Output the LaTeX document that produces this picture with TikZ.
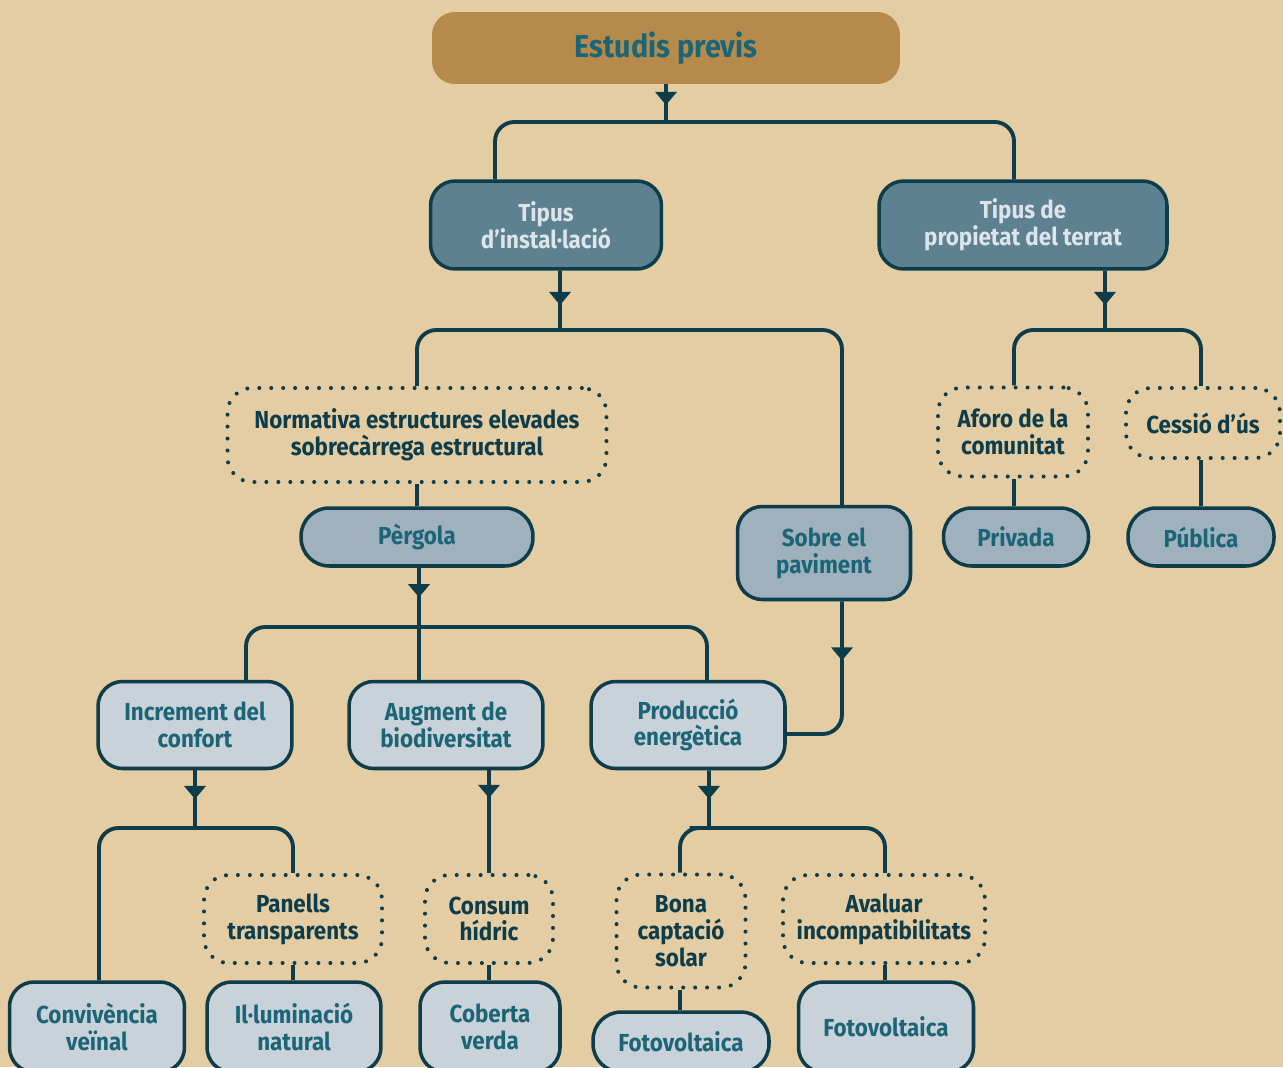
\documentclass[tikz,border=0pt]{standalone}
\usepackage{fontspec}
\setmainfont{Fira Sans}[FakeStretch=0.91]
\usetikzlibrary{arrows.meta,decorations.markings}
\definecolor{bgsand}{HTML}{E4CCA3}
\definecolor{gold}{HTML}{B68A4A}
\definecolor{inkdark}{HTML}{0D3D4B}
\definecolor{tealtext}{HTML}{1B6577}
\definecolor{slate}{HTML}{5E8192}
\definecolor{slatemid}{HTML}{A0B1BE}
\definecolor{slatelight}{HTML}{C9D1D9}
\definecolor{paletext}{HTML}{DDE4EA}

\begin{document}
\begin{tikzpicture}[x=0.02cm, y=-0.02cm,
  base/.style={align=center, inner sep=2pt,
               font=\fontsize{14}{15.3}\selectfont\bfseries},
  rootbox/.style={base, fill=gold, text=tealtext, rounded corners=13pt,
                  minimum width=9.36cm, minimum height=1.44cm,
                  font=\fontsize{18}{20}\selectfont\bfseries},
  topbox/.style={base, draw=inkdark, line width=2pt, fill=slate,
                 text=paletext, rounded corners=14pt, minimum height=1.76cm},
  midbox/.style={base, draw=inkdark, line width=2pt, fill=slatemid,
                 text=tealtext, rounded corners=14pt},
  leafbox/.style={base, draw=inkdark, line width=2pt, fill=slatelight,
                  text=tealtext, rounded corners=14pt, minimum height=1.74cm},
  pillbox/.style={midbox, rounded corners=16pt, minimum height=1.16cm},
  notebox/.style={base, draw=inkdark, line width=2.3pt, line cap=round,
                  dash pattern=on 0pt off 6.8pt, text=inkdark,
                  rounded corners=14pt},
  conn/.style={draw=inkdark, line width=2.2pt, rounded corners=11pt},
  flow/.style={conn, postaction={decorate},
               decoration={markings, mark=at position #1 with
                 {\arrow{Triangle[width=12pt,length=7.5pt]}}}},
  flow/.default=0.55
]
\useasboundingbox (0,0) rectangle (1283,1067);
\clip (0,0) rectangle (1283,1067);
\fill[bgsand] (0,0) rectangle (1283,1067);

% ======= Root =======
\node[rootbox] (estudis) at (666,48) {Estudis previs};

% ======= First level =======
\node[topbox, minimum width=4.62cm] (tipinst) at (546,225) {Tipus\\d’instal·lació};
\node[topbox, minimum width=5.76cm] (tipprop) at (1023,225) {Tipus de\\propietat del terrat};

% ======= Installation branch =======
\node[notebox, minimum width=7.58cm, minimum height=1.88cm] (normativa) at (417,435)
  {Normativa estructures elevades\\sobrecàrrega estructural};
\node[pillbox, minimum width=4.64cm] (pergola) at (417,537) {Pèrgola};
\node[midbox, minimum width=3.46cm, minimum height=1.86cm] (paviment) at (824,553) {Sobre el\\paviment};

% ======= Ownership branch =======
\node[notebox, minimum width=3cm, minimum height=1.78cm] (aforo) at (1013,432) {Aforo de la\\comunitat};
\node[notebox, minimum width=3.08cm, minimum height=1.4cm] (cessio) at (1203,423) {Cessió d’ús};
\node[pillbox, minimum width=2.9cm] (privada) at (1016,537) {Privada};
\node[pillbox, minimum width=2.92cm] (publica) at (1201,537) {Pública};

% ======= Pergola goals =======
\node[leafbox, minimum width=3.88cm] (increment) at (195,725) {Increment del\\confort};
\node[leafbox, minimum width=3.88cm] (augment) at (446,725) {Augment de\\biodiversitat};
\node[leafbox, minimum width=3.88cm] (produccio) at (688,725) {Producció\\energètica};

% ======= Conditions =======
\node[notebox, minimum width=3.56cm, minimum height=1.76cm] (panells) at (293,919) {Panells\\transparents};
\node[notebox, minimum width=2.56cm, minimum height=1.76cm] (consum) at (489,919) {Consum\\hídric};
\node[notebox, minimum width=2.58cm, minimum height=2.26cm] (bona) at (681,931) {Bona\\captació\\solar};
\node[notebox, minimum width=4.04cm, minimum height=1.76cm] (avaluar) at (884,919) {Avaluar\\incompatibilitats};

% ======= Results =======
\node[leafbox, minimum width=3.5cm, minimum height=1.8cm] (convivencia) at (97,1027) {Convivència\\veïnal};
\node[leafbox, minimum width=3.48cm, minimum height=1.8cm] (illuminacio) at (294,1027) {Il·luminació\\natural};
\node[leafbox, minimum width=2.8cm, minimum height=1.8cm] (coberta) at (490,1027) {Coberta\\verda};
\node[pillbox, fill=slatelight, minimum width=3.52cm, minimum height=1.2cm] (fotoa) at (681,1042) {Fotovoltaica};
\node[leafbox, minimum width=3.5cm, minimum height=1.8cm] (fotob) at (886,1027) {Fotovoltaica};

% ======= Junctions =======
\coordinate (j0) at (666,122);
\coordinate (j1) at (560,330);
\coordinate (j2) at (419,627);
\coordinate (j3) at (1105,330);
\coordinate (j4) at (195,828);
\coordinate (j5) at (709,828);

% ======= Connections =======
\draw[flow] (estudis.south) -- (j0);
\draw[conn] ([xshift=-1.02cm]tipinst.north) |- (j0) -| ([xshift=-0.18cm]tipprop.north);

\draw[flow=0.58] ([xshift=0.28cm]tipinst.south) -- (j1);
\draw[conn] (normativa.north) |- (j1) -| ([xshift=0.36cm]paviment.north);
\draw[conn] (normativa.south) -- (pergola.north);

\draw[flow=0.5] ([xshift=0.04cm]pergola.south) -- (j2);
\draw[conn] ([xshift=1.02cm]increment.north) |- (j2) -| ([xshift=0.38cm]produccio.north);
\draw[conn] (j2) -- (augment.north -| j2);
\draw[flow=0.33] ([xshift=0.36cm]paviment.south) |- ([yshift=-0.18cm]produccio.east);

\draw[flow=0.58] ([xshift=1.64cm]tipprop.south) -- (j3);
\draw[conn] ([xshift=0.02cm]aforo.north) |- (j3) -| ([xshift=-0.04cm]cessio.north);
\draw[conn] ([xshift=0.02cm]aforo.south) -- ([xshift=0.02cm]aforo.south |- privada.north);
\draw[conn] ([xshift=-0.04cm]cessio.south) -- ([xshift=-0.04cm]cessio.south |- publica.north);

\draw[flow=0.5] (increment.south) -- (j4);
\draw[conn] ([xshift=0.04cm]convivencia.north) |- (j4) -| (panells.north);
\draw[conn] (panells.south) -- (panells.south |- illuminacio.north);

\draw[flow=0.27] (augment.south -| consum.north) -- (consum.north);
\draw[conn] (consum.south) -- (consum.south |- coberta.north);

\draw[flow=0.5] ([xshift=0.42cm]produccio.south) -- (j5);
\draw[conn] ([xshift=-0.02cm]bona.north) |- (j5) -| ([xshift=0.02cm]avaluar.north);
\draw[conn] ([xshift=-0.02cm]bona.south) -- ([xshift=-0.02cm]bona.south |- fotoa.north);
\draw[conn] ([xshift=0.02cm]avaluar.south) -- ([xshift=0.02cm]avaluar.south |- fotob.north);

\end{tikzpicture}
\end{document}
